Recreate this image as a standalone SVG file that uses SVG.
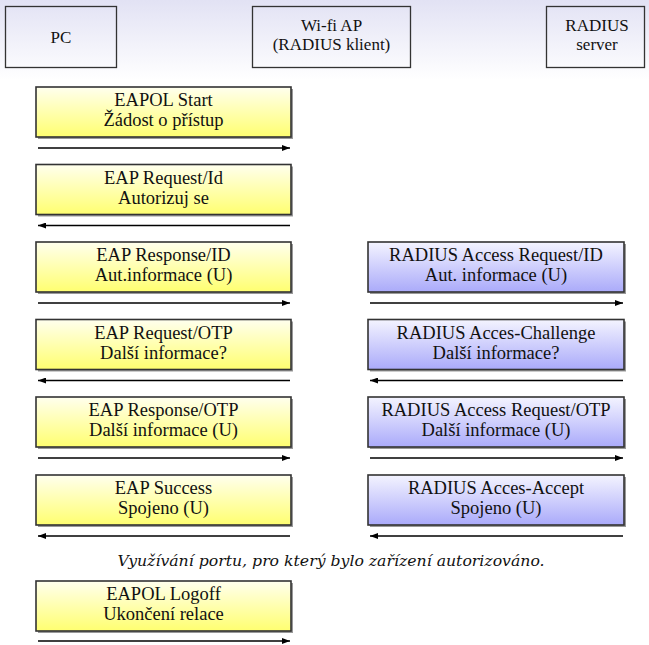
<svg xmlns="http://www.w3.org/2000/svg" width="649" height="645" viewBox="0 0 649 645">
<defs>
<linearGradient id="bg" x1="0" y1="0" x2="0" y2="1">
<stop offset="0" stop-color="#e2e2f4"/>
<stop offset="1" stop-color="#ffffff"/>
</linearGradient>
<linearGradient id="yel" x1="0" y1="0" x2="0" y2="1">
<stop offset="0" stop-color="#ffffee"/>
<stop offset="1" stop-color="#ffff70"/>
</linearGradient>
<linearGradient id="blu" x1="0" y1="0" x2="0" y2="1">
<stop offset="0" stop-color="#f4f4ff"/>
<stop offset="1" stop-color="#aaaafa"/>
</linearGradient>
<marker id="ah" viewBox="0 0 8 6" refX="8" refY="3" markerWidth="8" markerHeight="6" markerUnits="userSpaceOnUse" orient="auto">
<path d="M0,0 L8,3 L0,6 Z" fill="#000"/>
</marker>
<style>
text{font-family:"Liberation Serif",serif;fill:#111;text-anchor:middle}
.t{font-size:18.5px}
.h{font-size:17px}
.it{font-size:15.7px;font-style:italic;font-family:"DejaVu Serif",serif}
.top{fill:none;stroke:#333;stroke-width:1.3}
.y{fill:url(#yel);stroke:#333;stroke-width:1.6}
.b{fill:url(#blu);stroke:#333;stroke-width:1.6}
.sh{fill:#999}
.a{stroke:#000;stroke-width:1.3;fill:none;marker-end:url(#ah)}
</style>
</defs>
<rect x="0" y="0" width="649" height="80" fill="url(#bg)"/>
<rect x="0" y="80" width="649" height="565" fill="#fff"/>

<g id="pc"><rect class="top" x="5.5" y="6.5" width="111" height="61"/><text class="h" x="61" y="43">PC</text></g>
<g id="ap"><rect class="top" x="252.5" y="6.5" width="158" height="61"/><text class="h" x="331.5" y="30.5">Wi-fi AP</text><text class="h" x="331.5" y="49.5">(RADIUS klient)</text></g>
<g id="radius"><rect class="top" x="546.5" y="6.5" width="98" height="61"/><text class="h" x="597" y="31">RADIUS</text><text class="h" x="597" y="50">server</text></g>

<g id="m1"><rect class="sh" x="38" y="89" width="255" height="50"/><rect class="y" x="36" y="87" width="255" height="50"/><text class="t" x="163.5" y="106">EAPOL Start</text><text class="t" x="163.5" y="126">Žádost o přístup</text></g>
<g id="m2"><rect class="sh" x="38" y="166.5" width="255" height="50"/><rect class="y" x="36" y="164.5" width="255" height="50"/><text class="t" x="163.5" y="183.5">EAP Request/Id</text><text class="t" x="163.5" y="203.5">Autorizuj se</text></g>
<g id="m3"><rect class="sh" x="38" y="244" width="255" height="50"/><rect class="y" x="36" y="242" width="255" height="50"/><text class="t" x="163.5" y="261">EAP Response/ID</text><text class="t" x="163.5" y="281">Aut.informace (U)</text></g>
<g id="m4"><rect class="sh" x="38" y="321.5" width="255" height="50"/><rect class="y" x="36" y="319.5" width="255" height="50"/><text class="t" x="163.5" y="338.5">EAP Request/OTP</text><text class="t" x="163.5" y="358.5">Další informace?</text></g>
<g id="m5"><rect class="sh" x="38" y="399" width="255" height="50"/><rect class="y" x="36" y="397" width="255" height="50"/><text class="t" x="163.5" y="416">EAP Response/OTP</text><text class="t" x="163.5" y="436">Další informace (U)</text></g>
<g id="m6"><rect class="sh" x="38" y="477" width="255" height="50"/><rect class="y" x="36" y="475" width="255" height="50"/><text class="t" x="163.5" y="494">EAP Success</text><text class="t" x="163.5" y="514">Spojeno (U)</text></g>
<g id="m7"><rect class="sh" x="38" y="583" width="255" height="50"/><rect class="y" x="36" y="581" width="255" height="50"/><text class="t" x="163.5" y="600">EAPOL Logoff</text><text class="t" x="163.5" y="620">Ukončení relace</text></g>

<g id="r3"><rect class="sh" x="370" y="244" width="256" height="50"/><rect class="b" x="368" y="242" width="256" height="50"/><text class="t" x="496" y="261">RADIUS Access Request/ID</text><text class="t" x="496" y="281">Aut. informace (U)</text></g>
<g id="r4"><rect class="sh" x="370" y="321.5" width="256" height="50"/><rect class="b" x="368" y="319.5" width="256" height="50"/><text class="t" x="496" y="338.5">RADIUS Acces-Challenge</text><text class="t" x="496" y="358.5">Další informace?</text></g>
<g id="r5"><rect class="sh" x="370" y="399" width="256" height="50"/><rect class="b" x="368" y="397" width="256" height="50"/><text class="t" x="496" y="416">RADIUS Access Request/OTP</text><text class="t" x="496" y="436">Další informace (U)</text></g>
<g id="r6"><rect class="sh" x="370" y="477" width="256" height="50"/><rect class="b" x="368" y="475" width="256" height="50"/><text class="t" x="496" y="494">RADIUS Acces-Accept</text><text class="t" x="496" y="514">Spojeno (U)</text></g>

<g id="note"><text class="it" x="331" y="566">Využívání portu, pro který bylo zařízení autorizováno.</text></g>

<g id="connectors">
<line class="a" x1="38" y1="148" x2="290" y2="148"/>
<line class="a" x1="290" y1="225.5" x2="38" y2="225.5"/>
<line class="a" x1="38" y1="303" x2="290" y2="303"/>
<line class="a" x1="290" y1="380.5" x2="38" y2="380.5"/>
<line class="a" x1="38" y1="458" x2="290" y2="458"/>
<line class="a" x1="290" y1="536" x2="38" y2="536"/>
<line class="a" x1="38" y1="641" x2="290" y2="641"/>
<line class="a" x1="370" y1="303" x2="623" y2="303"/>
<line class="a" x1="623" y1="380.5" x2="370" y2="380.5"/>
<line class="a" x1="370" y1="458" x2="623" y2="458"/>
<line class="a" x1="623" y1="536" x2="370" y2="536"/>
</g>
</svg>
